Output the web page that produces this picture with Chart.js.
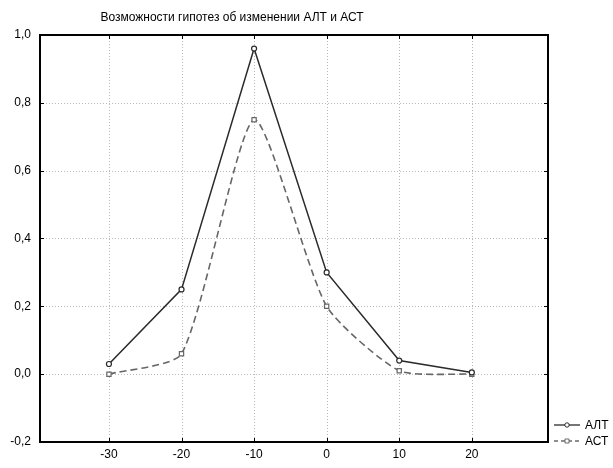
<!DOCTYPE html>
<html>
<head>
<meta charset="utf-8">
<script src="https://cdn.jsdelivr.net/npm/chart.js@4"></script>
<style>
html,body{margin:0;padding:0;background:#fff;}
#wrap{width:613px;height:468px;position:relative;}
</style>
</head>
<body>
<div id="wrap"><canvas id="c" width="613" height="468"></canvas></div>
<script>
const chartTitle = "Возможности гипотез об изменении АЛТ и АСТ";
const categories = [-30, -20, -10, 0, 10, 20];
const altValues = [0.03, 0.25, 0.96, 0.30, 0.04, 0.005];
const astValues = [0.0, 0.06, 0.75, 0.20, 0.01, 0.0];
const yTicks = [-0.2, 0.0, 0.2, 0.4, 0.6, 0.8, 1.0];
const seriesNames = ["АЛТ", "АСТ"];

const FONT = "'Liberation Sans', Arial, sans-serif";

const gridPlugin = {
  id: 'dotgrid',
  beforeDatasetsDraw(chart) {
    const ctx = chart.ctx, a = chart.chartArea;
    const xs = chart.scales.x, ys = chart.scales.y;
    ctx.save();
    ctx.strokeStyle = '#b8b8b8';
    ctx.lineWidth = 1;
    ctx.setLineDash([1, 2]);
    ctx.beginPath();
    categories.forEach(v => {
      const x = Math.round(xs.getPixelForValue(v)) + 0.5;
      ctx.moveTo(x, a.top); ctx.lineTo(x, a.bottom);
    });
    yTicks.forEach(v => {
      const y = Math.round(ys.getPixelForValue(v)) + 0.5;
      ctx.moveTo(a.left, y); ctx.lineTo(a.right, y);
    });
    ctx.stroke();
    ctx.restore();
  }
};

const framePlugin = {
  id: 'frame',
  afterDraw(chart) {
    const ctx = chart.ctx, a = chart.chartArea;
    const xs = chart.scales.x, ys = chart.scales.y;
    ctx.save();
    ctx.strokeStyle = '#000';
    ctx.lineWidth = 2;
    ctx.setLineDash([]);
    ctx.strokeRect(a.left, a.top, a.right - a.left, a.bottom - a.top);
    ctx.lineWidth = 1;
    const L = 4;
    ctx.beginPath();
    categories.forEach(v => {
      const x = Math.round(xs.getPixelForValue(v)) + 0.5;
      ctx.moveTo(x, a.top); ctx.lineTo(x, a.top + L);
      ctx.moveTo(x, a.bottom); ctx.lineTo(x, a.bottom - L);
    });
    yTicks.forEach(v => {
      const y = Math.round(ys.getPixelForValue(v)) + 0.5;
      ctx.moveTo(a.left, y); ctx.lineTo(a.left + L, y);
      ctx.moveTo(a.right, y); ctx.lineTo(a.right - L, y);
    });
    ctx.stroke();
    // title
    ctx.fillStyle = '#000';
    ctx.font = '12px ' + FONT;
    ctx.textAlign = 'center';
    ctx.textBaseline = 'alphabetic';
    ctx.fillText(chartTitle, 232, 21);
    // legend
    const items = [
      {name: seriesNames[0], color: '#2a2a2a', dash: [], style: 'circle', y: 425},
      {name: seriesNames[1], color: '#6a6a6a', dash: [4, 3], style: 'rect', y: 441}
    ];
    items.forEach(it => {
      ctx.strokeStyle = it.color;
      ctx.lineWidth = 1.3;
      ctx.setLineDash(it.dash);
      ctx.beginPath();
      ctx.moveTo(554, it.y); ctx.lineTo(580, it.y);
      ctx.stroke();
      ctx.setLineDash([]);
      ctx.fillStyle = '#fff';
      ctx.lineWidth = 1;
      ctx.beginPath();
      if (it.style === 'circle') {
        ctx.arc(567, it.y, 2.2, 0, Math.PI * 2);
      } else {
        ctx.rect(565, it.y - 2, 4, 4);
      }
      ctx.fill(); ctx.stroke();
      ctx.fillStyle = '#000';
      ctx.font = '12px ' + FONT;
      ctx.textAlign = 'left';
      ctx.textBaseline = 'middle';
      ctx.fillText(it.name, 585, it.y + 1);
    });
    ctx.restore();
  }
};

new Chart(document.getElementById('c'), {
  type: 'line',
  data: {
    datasets: [
      {
        label: seriesNames[0],
        data: categories.map((c, i) => ({x: c, y: altValues[i]})),
        borderColor: '#2a2a2a',
        borderWidth: 1.5,
        pointStyle: 'circle',
        pointRadius: 2.5,
        pointBorderWidth: 1.2,
        pointBackgroundColor: '#fff',
        pointBorderColor: '#2a2a2a',
        tension: 0
      },
      {
        label: seriesNames[1],
        data: categories.map((c, i) => ({x: c, y: astValues[i]})),
        borderColor: '#666',
        borderWidth: 1.6,
        borderDash: [7, 4],
        pointStyle: 'rect',
        pointRadius: 3,
        pointBorderWidth: 1.2,
        pointBackgroundColor: '#fff',
        pointBorderColor: '#666',
        tension: 0.2
      }
    ]
  },
  options: {
    responsive: false,
    animation: false,
    devicePixelRatio: 1,
    layout: {padding: {top: 35, right: 65, left: 0, bottom: 0}},
    plugins: {legend: {display: false}, title: {display: false}, tooltip: {enabled: false}},
    scales: {
      x: {
        type: 'linear',
        min: -39.5,
        max: 30.5,
        afterBuildTicks: s => { s.ticks = categories.map(v => ({value: v})); },
        afterFit: s => { s.height = 26; },
        grid: {display: false, drawTicks: false},
        border: {display: false},
        ticks: {
          padding: 5,
          color: '#000',
          font: {family: FONT, size: 12},
          maxRotation: 0,
          callback: v => String(v)
        }
      },
      y: {
        type: 'linear',
        min: -0.2,
        max: 1.0,
        afterBuildTicks: s => { s.ticks = yTicks.map(v => ({value: v})); },
        afterFit: s => { s.width = 40; },
        grid: {display: false, drawTicks: false},
        border: {display: false},
        ticks: {
          padding: 9,
          color: '#000',
          font: {family: FONT, size: 12},
          callback: v => v.toFixed(1).replace('.', ',')
        }
      }
    }
  },
  plugins: [gridPlugin, framePlugin]
});
</script>
</body>
</html>
